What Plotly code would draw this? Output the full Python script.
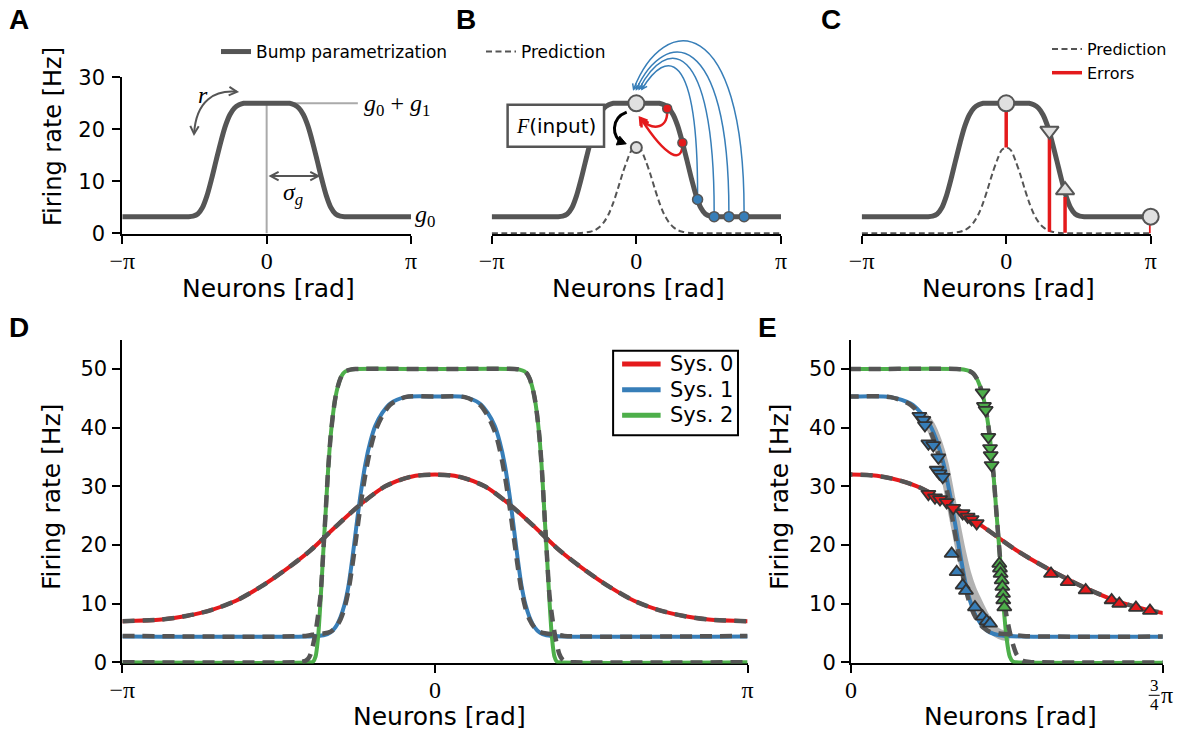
import math
import plotly.graph_objects as go

PI = math.pi
W, H = 1182, 734

# ---------------- data ----------------
# bump parametrisation used in panels A-C (half profile, x >= 0, rad / Hz)
bump_half_x = [0.0, 0.3, 0.5, 0.6, 0.7, 0.8, 0.9, 1.0, 1.1, 1.2, 1.3, 1.4, 1.5, 1.6, 1.7, 2.2, PI]
bump_half_y = [25.0, 25.0, 25.0, 24.7, 24.1, 22.8, 20.6, 17.5, 14.0, 10.4, 7.2, 4.9, 3.7, 3.3, 3.2, 3.2, 3.2]
# network prediction (dashed) in panels B-C
pred_half_x = [0.0, 0.1, 0.2, 0.3, 0.4, 0.5, 0.6, 0.7, 0.8, 0.9, 1.0, 1.2, 1.4, PI]
pred_half_y = [16.5, 16.0, 14.0, 11.5, 8.6, 5.9, 3.7, 2.2, 1.2, 0.6, 0.3, 0.05, 0.0, 0.0]

# panel B markers
b_red_x = [0.67, 1.00]
b_red_y = [24.0, 17.4]
b_blue_x = [1.33, 1.69, 2.01, 2.34]
b_blue_y = [6.5, 3.2, 3.2, 3.2]
b_arc_end_x = [0.12, 0.06, 0.0, -0.06]
b_arc_top = [31.1, 32.4, 33.7, 36.0]
b_big_x, b_big_y = [0.0], [25.0]
b_small_x, b_small_y = [0.0], [16.5]

# panel C markers and errors
c_circle_x = [0.0, PI]
c_circle_y = [25.0, 3.2]
c_down_x, c_down_y = [0.94], [19.7]
c_up_x, c_up_y = [1.28], [8.3]
c_err_x = [0.0, 0.94, 1.28, PI]
c_err_top = [25.0, 18.6, 7.0, 3.2]
c_err_bot = [16.5, 0.3, 0.1, 0.0]

# panels D-E: three systems (half profiles) and their predictions
sys_names = ["Sys. 0", "Sys. 1", "Sys. 2"]
sys0_half_x = [0.0, 0.25, 0.5, 0.75, 1.0, 1.25, 1.5, 1.75, 2.0, 2.25, 2.5, 2.75, PI]
sys0_half_y = [32.0, 31.6, 30.0, 26.9, 23.1, 19.1, 15.8, 12.9, 10.5, 8.9, 7.9, 7.3, 7.0]
sys1_half_x = [0.0, 0.3, 0.45, 0.53, 0.6, 0.65, 0.7, 0.75, 0.79, 0.83, 0.87, 0.91, 0.95, 1.0, 1.05, 1.12, 1.3, PI]
sys1_half_y = [45.3, 45.2, 44.1, 42.5, 40.3, 37.6, 33.8, 28.4, 23.2, 17.8, 13.0, 9.8, 7.7, 6.0, 5.1, 4.6, 4.4, 4.4]
pred1_half_x = [0.0, 0.3, 0.45, 0.53, 0.6, 0.65, 0.7, 0.75, 0.79, 0.83, 0.87, 0.91, 0.95, 1.0, 1.05, 1.12, 1.2, 1.3, PI]
pred1_half_y = [45.3, 45.2, 43.9, 42.0, 39.4, 36.3, 32.0, 26.5, 21.5, 16.5, 12.2, 9.2, 7.3, 5.9, 5.2, 4.9, 4.8, 4.5, 4.5]
sys2_half_x = [0.0, 0.8, 0.85, 0.9, 0.925, 0.95, 0.975, 1.0, 1.025, 1.05, 1.075, 1.1, 1.125, 1.15, 1.175, 1.2, 1.225, 1.25, PI]
sys2_half_y = [50.0, 50.0, 49.9, 49.6, 49.2, 48.4, 47.1, 45.2, 42.3, 38.3, 32.6, 25.3, 18.2, 10.6, 4.3, 1.0, 0.1, 0.0, 0.0]
pred2_half_x = [0.0, 0.8, 0.85, 0.9, 0.925, 0.95, 0.975, 1.0, 1.025, 1.05, 1.075, 1.1, 1.125, 1.15, 1.175, 1.2, 1.225, 1.25, 1.275, 1.3, 1.35, 1.4, PI]
pred2_half_y = [50.0, 50.0, 49.9, 49.6, 49.2, 48.4, 47.1, 45.2, 42.3, 38.3, 32.6, 25.3, 18.2, 11.5, 8.0, 5.2, 3.0, 1.4, 0.6, 0.25, 0.05, 0.0, 0.0]
# light grey band under Sys. 1 in panel E
band_x = [0.55, 0.6, 0.65, 0.7, 0.75, 0.79, 0.83, 0.87, 0.91, 0.95, 1.0, 1.05, 1.1, 1.15, 1.2]
band_y = [41.8, 40.3, 37.6, 33.8, 28.0, 23.5, 19.0, 15.2, 12.5, 10.5, 8.2, 6.2, 5.1, 4.6, 4.45]

# panel E sampled neurons
e_g_down_x = [0.995, 1.005, 1.018, 1.038, 1.051, 1.056, 1.063]
e_g_down_y = [46.0, 43.7, 43.0, 38.4, 36.5, 35.3, 33.6]
e_g_up_x = [1.121, 1.126, 1.131, 1.139, 1.144, 1.149, 1.151, 1.159]
e_g_up_y = [16.8, 16.0, 15.1, 14.0, 12.9, 11.7, 10.6, 9.4]
e_b_down_x = [0.517, 0.547, 0.559, 0.585, 0.622, 0.660, 0.648, 0.668, 0.693]
e_b_down_y = [42.0, 41.3, 40.4, 37.3, 37.0, 34.9, 32.8, 32.2, 31.6]
e_b_up_x = [0.761, 0.799, 0.844, 0.869, 0.937, 0.995, 1.026, 1.051]
e_b_up_y = [18.5, 15.4, 13.1, 12.2, 9.4, 7.8, 7.0, 6.6]
e_r_down_x = [0.585, 0.635, 0.673, 0.723, 0.773, 0.844, 0.882, 0.912, 0.950]
e_r_down_y = [28.7, 28.1, 27.8, 27.3, 26.3, 25.4, 24.8, 24.4, 23.7]
e_r_up_x = [1.512, 1.638, 1.774, 1.970, 2.028, 2.154, 2.260]
e_r_up_y = [15.1, 13.7, 12.3, 10.6, 10.0, 9.3, 8.8]

tick_pi_vals = [-PI, 0, PI]
tick_pi_text = ["\u2212\u03c0", "0", "\u03c0"]

# ---------------- styles ----------------
GRAY = "#555555"
RED, BLUE, GREEN = "#e41a1c", "#377eb8", "#4daf4a"
SYS_COLORS = [RED, BLUE, GREEN]
LIGHT = "#e0e0e0"
SANS = "DejaVu Sans"
SERIF = "Liberation Serif"


def mirror(hx, hy):
    xs = [-v for v in reversed(hx)] + list(hx[1:])
    ys = list(reversed(hy)) + list(hy[1:])
    return xs, ys


PANELS = {
    'A': dict(x0=122.3, x1=411.0, xmin=-PI, xmax=PI, yz=233.3, ys=5.2, ymin=-0.2, ymax=30),
    'B': dict(x0=491.7, x1=781.0, xmin=-PI, xmax=PI, yz=233.3, ys=5.2, ymin=-0.2, ymax=30),
    'C': dict(x0=861.7, x1=1150.7, xmin=-PI, xmax=PI, yz=233.3, ys=5.2, ymin=-0.2, ymax=30),
    'D': dict(x0=122.4, x1=747.6, xmin=-PI, xmax=PI, yz=662.3, ys=5.866, ymin=-0.2, ymax=55),
    'E': dict(x0=851.0, x1=1162.7, xmin=0.0, xmax=0.75 * PI, yz=662.3, ys=5.866, ymin=-0.2, ymax=55),
}
AX = {k: (('x', 'y') if i == 0 else (f'x{i+1}', f'y{i+1}')) for i, k in enumerate('ABCDE')}


def to_px(panel, x, y):
    p = PANELS[panel]
    X = p['x0'] + (x - p['xmin']) / (p['xmax'] - p['xmin']) * (p['x1'] - p['x0'])
    Y = p['yz'] - y * p['ys']
    return X, Y


def pp(X, Y):
    return f"{X / W:.5f},{1 - Y / H:.5f}"


fig = go.Figure()


def add(panel, **kw):
    xa, ya = AX[panel]
    kw.setdefault('showlegend', False)
    fig.add_trace(go.Scatter(xaxis=xa, yaxis=ya, hoverinfo='skip', **kw))


bx, by = mirror(bump_half_x, bump_half_y)
prx, pry = mirror(pred_half_x, pred_half_y)
SPL = dict(shape='spline', smoothing=0.8)

# ---- panel A ----
add('A', x=bx, y=by, mode='lines', line=dict(color=GRAY, width=5, **SPL),
    name='Bump parametrization', showlegend=True, legend='legend')

# ---- panel B ----
add('B', x=prx, y=pry, mode='lines', line=dict(color=GRAY, width=2, dash='6px,3.5px', **SPL),
    name='Prediction', showlegend=True, legend='legend2')
add('B', x=bx, y=by, mode='lines', line=dict(color=GRAY, width=5, **SPL))
add('B', x=b_blue_x, y=b_blue_y, mode='markers', cliponaxis=False,
    marker=dict(size=10, color=BLUE, line=dict(color=GRAY, width=1.5)))
add('B', x=b_red_x, y=b_red_y, mode='markers', cliponaxis=False,
    marker=dict(size=9, color=RED, line=dict(color=GRAY, width=1.5)))
add('B', x=b_big_x, y=b_big_y, mode='markers', cliponaxis=False,
    marker=dict(size=16, color=LIGHT, line=dict(color=GRAY, width=2)))
add('B', x=b_small_x, y=b_small_y, mode='markers', cliponaxis=False,
    marker=dict(size=11, color=LIGHT, line=dict(color=GRAY, width=2)))

# ---- panel C ----
add('C', x=bx, y=by, mode='lines', line=dict(color=GRAY, width=5, **SPL))
add('C', x=prx, y=pry, mode='lines', line=dict(color=GRAY, width=2, dash='6px,3.5px', **SPL),
    name='Prediction', showlegend=True, legend='legend3')
ex, ey = [], []
for xv, t, b in zip(c_err_x, c_err_top, c_err_bot):
    ex += [xv, xv, None]
    ey += [t, b, None]
add('C', x=ex, y=ey, mode='lines', line=dict(color=RED, width=3.5),
    name='Errors', showlegend=True, legend='legend3')
add('C', x=c_down_x, y=c_down_y, mode='markers', cliponaxis=False,
    marker=dict(size=16, symbol='triangle-down', color=LIGHT, line=dict(color=GRAY, width=2)))
add('C', x=c_up_x, y=c_up_y, mode='markers', cliponaxis=False,
    marker=dict(size=16, symbol='triangle-up', color=LIGHT, line=dict(color=GRAY, width=2)))
add('C', x=c_circle_x, y=c_circle_y, mode='markers', cliponaxis=False,
    marker=dict(size=16, color=LIGHT, line=dict(color=GRAY, width=2)))

# ---- panels D & E ----
sys_curves = [mirror(sys0_half_x, sys0_half_y), mirror(sys1_half_x, sys1_half_y),
              mirror(sys2_half_x, sys2_half_y)]
pred_curves = [mirror(sys0_half_x, sys0_half_y), mirror(pred1_half_x, pred1_half_y),
               mirror(pred2_half_x, pred2_half_y)]
DASH = dict(color=GRAY, width=4.5, dash='12px,8px', **SPL)

add('E', x=band_x, y=band_y, mode='lines', line=dict(color='rgba(165,165,165,0.85)', width=10, **SPL))
for panel in ('D', 'E'):
    for (cx, cy), col, nm in zip(sys_curves, SYS_COLORS, sys_names):
        add(panel, x=cx, y=cy, mode='lines', line=dict(color=col, width=4, **SPL), name=nm)
    for (cx, cy) in pred_curves:
        add(panel, x=cx, y=cy, mode='lines', line=DASH)

MK = dict(size=12.5, line=dict(color='#333333', width=1.8))
for xs, ys, col, sym in [
    (e_r_down_x, e_r_down_y, RED, 'triangle-down'), (e_r_up_x, e_r_up_y, RED, 'triangle-up'),
    (e_b_down_x, e_b_down_y, BLUE, 'triangle-down'), (e_b_up_x, e_b_up_y, BLUE, 'triangle-up'),
    (e_g_down_x, e_g_down_y, GREEN, 'triangle-down'), (e_g_up_x, e_g_up_y, GREEN, 'triangle-up')]:
    add('E', x=xs, y=ys, mode='markers', cliponaxis=False, marker=dict(color=col, symbol=sym, **MK))

# ---------------- axes ----------------
layout = dict(template='none', width=W, height=H, margin=dict(l=0, r=0, t=0, b=0, autoexpand=False),
              paper_bgcolor='white', plot_bgcolor='white', autosize=False)
base = dict(showgrid=False, zeroline=False, showline=True, linecolor='black', linewidth=2,
            ticks='outside', ticklen=8, tickwidth=1.5, tickcolor='black', layer='below traces',
            fixedrange=True, automargin=False)
for i, k in enumerate('ABCDE'):
    p = PANELS[k]
    xa, ya = AX[k]
    xname = 'xaxis' if i == 0 else f'xaxis{i+1}'
    yname = 'yaxis' if i == 0 else f'yaxis{i+1}'
    ybot = p['yz'] - p['ymin'] * p['ys']
    ytop = p['yz'] - p['ymax'] * p['ys']
    xd = dict(base, domain=[p['x0'] / W, p['x1'] / W], range=[p['xmin'], p['xmax']], anchor=ya,
              tickfont=dict(family=SERIF, size=24, color='black'), ticklabelstandoff=-4)
    if k == 'E':
        xd.update(tickvals=[0, 0.75 * PI], ticktext=['0', ' '])
    else:
        xd.update(tickvals=tick_pi_vals, ticktext=tick_pi_text)
    yd = dict(base, domain=[1 - ybot / H, 1 - ytop / H], range=[p['ymin'], p['ymax']], anchor=xa)
    if k in ('B', 'C'):
        yd.update(visible=False)
    elif k == 'A':
        yd.update(tickvals=[0, 10, 20, 30], tickfont=dict(family=SANS, size=21, color='black'),
                  ticklabelstandoff=3)
    else:
        yd.update(tickvals=[0, 10, 20, 30, 40, 50], tickfont=dict(family=SANS, size=21, color='black'),
                  ticklabelstandoff=1)
    layout[xname] = xd
    layout[yname] = yd


def legend_at(x_px, y_px, size, yanchor='middle', **extra):
    d = dict(x=x_px / W, y=1 - y_px / H, xanchor='left', yanchor=yanchor, xref='paper', yref='paper',
             font=dict(family=SANS, size=size, color='black'), bgcolor='rgba(0,0,0,0)',
             borderwidth=0, itemclick=False, itemdoubleclick=False, tracegroupgap=0)
    d.update(extra)
    return d


layout['legend'] = legend_at(216, 52, 17)
layout['legend2'] = legend_at(481, 52, 17)
layout['legend3'] = legend_at(1047, 61, 16)
fig.update_layout(**layout)

# ---------------- decorations ----------------
shapes, annos = [], []


def chevron(tip, frm, L=8.0, ang=28.0):
    dx, dy = tip[0] - frm[0], tip[1] - frm[1]
    n = math.hypot(dx, dy)
    ux, uy = dx / n, dy / n
    arms = []
    for s in (1, -1):
        a = math.radians(ang * s)
        bx_, by_ = -ux, -uy
        rx = bx_ * math.cos(a) - by_ * math.sin(a)
        ry = bx_ * math.sin(a) + by_ * math.cos(a)
        arms.append((tip[0] + L * rx, tip[1] + L * ry))
    return arms


def add_chevron(tip, frm, color, width, L=8.0, ang=28.0, filled=False, layer='above'):
    a1, a2 = chevron(tip, frm, L, ang)
    if filled:
        path = f"M{pp(*a1)} L{pp(*tip)} L{pp(*a2)} Z"
        shapes.append(dict(type='path', xref='paper', yref='paper', path=path, layer=layer,
                           line=dict(color=color, width=1), fillcolor=color))
    else:
        path = f"M{pp(*a1)} L{pp(*tip)} L{pp(*a2)}"
        shapes.append(dict(type='path', xref='paper', yref='paper', path=path, layer=layer,
                           line=dict(color=color, width=width)))


def add_bezier(p0, p1, p2, p3, color, width, layer='above'):
    path = f"M{pp(*p0)} C{pp(*p1)} {pp(*p2)} {pp(*p3)}"
    shapes.append(dict(type='path', xref='paper', yref='paper', path=path, layer=layer,
                       line=dict(color=color, width=width)))


def text(X, Y, s, size, family=SANS, xanchor='center', yanchor='middle', angle=0, color='black'):
    annos.append(dict(x=X / W, y=1 - Y / H, xref='paper', yref='paper', text=s, showarrow=False,
                      xanchor=xanchor, yanchor=yanchor, textangle=angle,
                      font=dict(family=family, size=size, color=color)))


# panel A guide lines
shapes.append(dict(type='line', xref='x', yref='y', x0=0, x1=0, y0=0, y1=25, layer='below',
                   line=dict(color='#aaaaaa', width=2)))
shapes.append(dict(type='line', xref='x', yref='y', x0=0, x1=1.985, y0=25, y1=25, layer='below',
                   line=dict(color='#aaaaaa', width=2)))
# r arrow
r0, r1, r2, r3 = (to_px('A', -1.58, 19.1), to_px('A', -1.537, 25.6),
                  to_px('A', -1.124, 27.6), to_px('A', -0.646, 27.2))
add_bezier(r0, r1, r2, r3, GRAY, 2)
add_chevron(r0, r1, GRAY, 2, L=9)
add_chevron(r3, r2, GRAY, 2, L=9)
# sigma arrow
s_a, s_b = to_px('A', 0.087, 11.0), to_px('A', 1.122, 11.0)
shapes.append(dict(type='path', xref='paper', yref='paper', path=f"M{pp(*s_a)} L{pp(*s_b)}",
                   line=dict(color=GRAY, width=2)))
add_chevron(s_a, s_b, GRAY, 2, L=9)
add_chevron(s_b, s_a, GRAY, 2, L=9)
X, Y = to_px('A', -1.385, 26.6)
text(X, Y, '<i>r</i>', 24, SERIF)
X, Y = to_px('A', 0.572, 7.6)
text(X, Y, '<i>σ</i><sub><i>g</i></sub>', 24, SERIF)
X, Y = to_px('A', 2.072, 24.6)
text(X, Y, '<i>g</i><sub>0</sub> + <i>g</i><sub>1</sub>', 24, SERIF, xanchor='left')
X, Y = to_px('A', 3.18, 3.4)
text(X, Y, '<i>g</i><sub>0</sub>', 24, SERIF, xanchor='left')

# panel B: blue arcs from the low neurons back to the peak
for xd_, yd_, xe, top in zip(b_blue_x, b_blue_y, b_arc_end_x, b_arc_top):
    P0 = to_px('B', xd_, yd_)
    P0 = (P0[0], P0[1] - 5)
    P3 = to_px('B', xe, 27.7)
    topY = to_px('B', 0, top)[1]
    c = (topY - 0.125 * (P0[1] + P3[1])) / 0.75
    k = 25 + 1.7 * (xd_ - 1.33) * 3
    P1 = (P0[0], c)
    P2 = (P3[0] + k, c)
    add_bezier(P0, P1, P2, P3, BLUE, 1.5, layer='below')
    add_chevron(P3, P2, BLUE, 1.5, L=6, ang=30, layer='below')

# panel B: red arrows
tipR = to_px('B', 0.08, 22.2)
d1 = to_px('B', b_red_x[0], b_red_y[0])
add_bezier((d1[0], d1[1] + 3), (d1[0] + 0.3, d1[1] + 22), (d1[0] - 17.7, d1[1] + 22), tipR, RED, 2.5, layer='below')
add_chevron(tipR, (d1[0] - 17.7, d1[1] + 22), RED, 2.5, L=8, ang=32, layer='below')
tipR2 = to_px('B', 0.11, 21.9)
d2 = to_px('B', b_red_x[1], b_red_y[1])
add_bezier((d2[0], d2[1] + 3), (d2[0] - 0.7, d2[1] + 19), (d2[0] - 14.7, d2[1] + 17), tipR2, RED, 2.5, layer='below')
add_chevron(tipR2, (d2[0] - 14.7, d2[1] + 17), RED, 2.5, L=8, ang=32, layer='below')

# panel B: black arrow from peak to prediction
k0 = to_px('B', -0.21, 23.3)
k3 = to_px('B', -0.22, 17.2)
k1 = (k0[0] - 16, k0[1] + 6)
k2 = (k3[0] - 15, k3[1] - 6)
add_bezier(k0, k1, k2, (k3[0] - 3, k3[1] - 1.2), 'black', 3)
add_chevron(k3, k2, 'black', 3, L=10, ang=28, filled=True)

# panel B: F(input) box
b_l, b_t = to_px('B', -2.796, 24.7)
b_r, b_b = to_px('B', -0.702, 16.65)
shapes.append(dict(type='rect', xref='paper', yref='paper', x0=b_l / W, x1=b_r / W,
                   y0=1 - b_b / H, y1=1 - b_t / H, line=dict(color=GRAY, width=2.5),
                   fillcolor='white', layer='above'))
text((b_l + b_r) / 2, (b_t + b_b) / 2,
     f'<span style="font-family:{SERIF}"><i>F</i></span>(input)', 20, SANS)

# panel D legend (boxed)
lg_l, lg_t = to_px('D', 1.79, 53.1)
lg_r, lg_b = to_px('D', 3.045, 38.7)
shapes.append(dict(type='rect', xref='paper', yref='paper', x0=lg_l / W, x1=lg_r / W,
                   y0=1 - lg_b / H, y1=1 - lg_t / H, line=dict(color='black', width=2),
                   fillcolor='white', layer='above'))
for j, (nm, col) in enumerate(zip(sys_names, SYS_COLORS)):
    yrow = lg_t + 13.3 + 25.6 * j
    shapes.append(dict(type='line', xref='paper', yref='paper', x0=(lg_l + 9) / W, x1=(lg_l + 47.5) / W,
                       y0=1 - yrow / H, y1=1 - yrow / H, line=dict(color=col, width=5)))
    text(lg_l + 55, yrow, nm, 21, SANS, xanchor='left')

# E fraction tick label 3/4 pi
tx, ty = to_px('E', 0.75 * PI, 0)
text(tx - 8.5, ty + 23.5, '3', 17, SERIF)
text(tx - 8.5, ty + 42.5, '4', 17, SERIF)
shapes.append(dict(type='line', xref='paper', yref='paper', x0=(tx - 14) / W, x1=(tx - 3) / W,
                   y0=1 - (ty + 33) / H, y1=1 - (ty + 33) / H, line=dict(color='black', width=1)))
text(tx + 4, ty + 33, 'π', 24, SERIF, xanchor='center')

# axis titles
text(53, 137, 'Firing rate [Hz]', 24, angle=-90)
text(268, 288, 'Neurons [rad]', 25)
text(638, 288, 'Neurons [rad]', 25)
text(1008, 288, 'Neurons [rad]', 25)
text(52, 497, 'Firing rate [Hz]', 25, angle=-90)
text(439, 716, 'Neurons [rad]', 25)
text(780, 497, 'Firing rate [Hz]', 25, angle=-90)
text(1010, 716, 'Neurons [rad]', 25)

# panel letters
for s, X, Y in [('A', 19, 20), ('B', 466, 20), ('C', 831, 20), ('D', 19, 327), ('E', 767, 327)]:
    text(X, Y, f'<b>{s}</b>', 28, 'Liberation Sans')

fig.update_layout(shapes=shapes, annotations=annos)
fig.write_html("out.html", config={'displayModeBar': False},
               post_script="document.body.style.margin='0px';")
